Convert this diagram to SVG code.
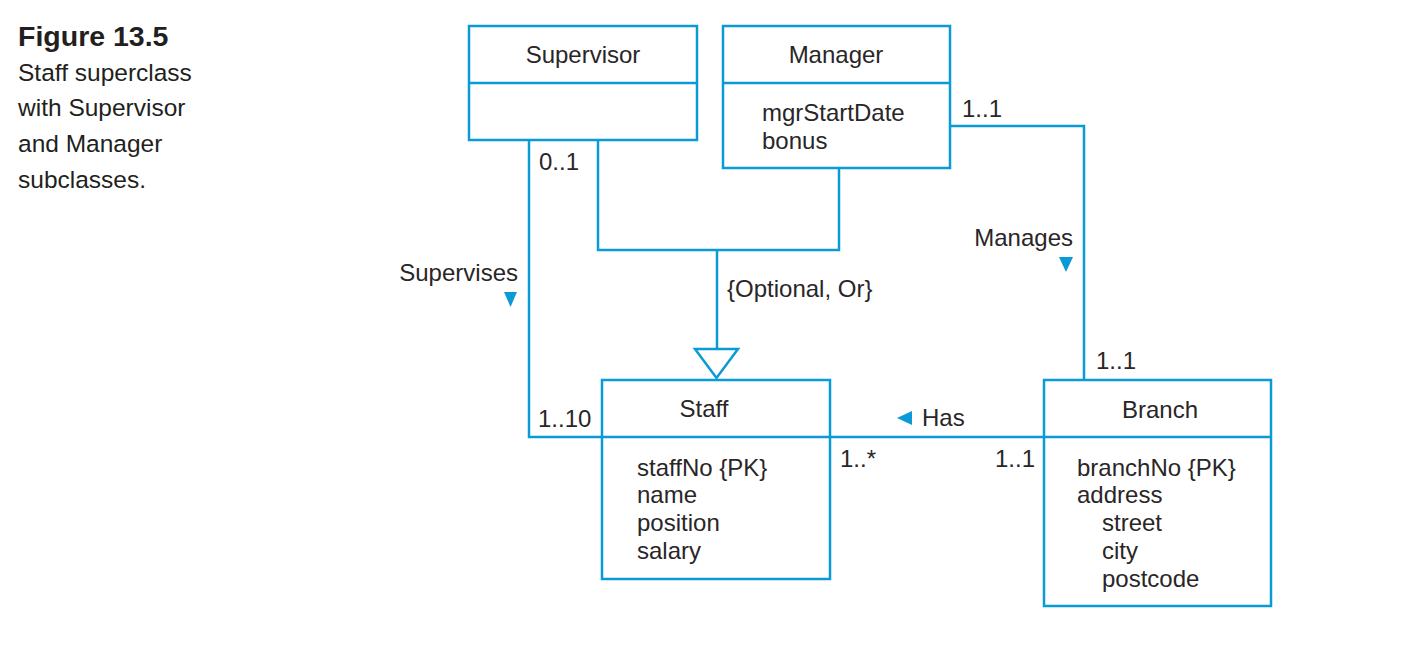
<svg xmlns="http://www.w3.org/2000/svg" width="1418" height="660" viewBox="0 0 1418 660">
<style>
.box{fill:#fff;stroke:#0a9ad6;stroke-width:2.5}
.ln{fill:none;stroke:#0a9ad6;stroke-width:2.5}
.arr{fill:#0a9ad6}
text{font-family:"Liberation Sans",Arial,sans-serif;font-size:24px;fill:#2a2627}
.c{text-anchor:middle}
.r{text-anchor:end}
.cap{font-size:24.5px;fill:#231f20}
.fig{font-size:28.5px;font-weight:bold;fill:#231f20}
</style>
<rect width="1418" height="660" fill="#fff"/>
<g id="caption">
<text class="fig" x="18" y="46">Figure 13.5</text>
<text class="cap" x="18" y="81">Staff superclass</text>
<text class="cap" x="18" y="116">with Supervisor</text>
<text class="cap" x="18" y="152">and Manager</text>
<text class="cap" x="18" y="188">subclasses.</text>
</g>
<g id="connectors">
<polyline class="ln" points="529,140 529,437 602,437"/>
<polyline class="ln" points="598,140 598,250 839,250 839,168"/>
<line class="ln" x1="717" y1="250" x2="717" y2="349"/>
<polygon class="box" points="695,349 738,349 716.5,378"/>
<line class="ln" x1="830" y1="437" x2="1044" y2="437"/>
<polyline class="ln" points="950,126 1084,126 1084,380"/>
<polygon class="arr" points="504,292 517,292 510.5,307"/>
<polygon class="arr" points="1059,257 1073,257 1066,272"/>
<polygon class="arr" points="912,411 912,425 897,418"/>
<text x="539" y="170">0..1</text>
<text class="r" x="518" y="281">Supervises</text>
<text x="727" y="297">{Optional, Or}</text>
<text x="538" y="427">1..10</text>
<text x="962" y="117">1..1</text>
<text class="r" x="1073" y="246">Manages</text>
<text x="1096" y="369">1..1</text>
<text x="922" y="426">Has</text>
<text x="840" y="467">1..*</text>
<text x="995" y="467">1..1</text>
</g>
<g id="supervisor">
<rect class="box" x="469" y="26" width="228" height="114"/>
<line class="ln" x1="469" y1="83" x2="697" y2="83"/>
<text class="c" x="583" y="63">Supervisor</text>
</g>
<g id="manager">
<rect class="box" x="723" y="26" width="227" height="142"/>
<line class="ln" x1="723" y1="83" x2="950" y2="83"/>
<text class="c" x="836" y="63">Manager</text>
<text x="762" y="121">mgrStartDate</text>
<text x="762" y="149">bonus</text>
</g>
<g id="staff">
<rect class="box" x="602" y="380" width="228" height="199"/>
<line class="ln" x1="602" y1="437" x2="830" y2="437"/>
<text class="c" x="704" y="417">Staff</text>
<text x="637" y="476">staffNo {PK}</text>
<text x="637" y="503">name</text>
<text x="637" y="531">position</text>
<text x="637" y="559">salary</text>
</g>
<g id="branch">
<rect class="box" x="1044" y="380" width="227" height="226"/>
<line class="ln" x1="1044" y1="437" x2="1271" y2="437"/>
<text class="c" x="1160" y="418">Branch</text>
<text x="1077" y="476">branchNo {PK}</text>
<text x="1077" y="503">address</text>
<text x="1102" y="531">street</text>
<text x="1102" y="559">city</text>
<text x="1102" y="587">postcode</text>
</g>
</svg>
